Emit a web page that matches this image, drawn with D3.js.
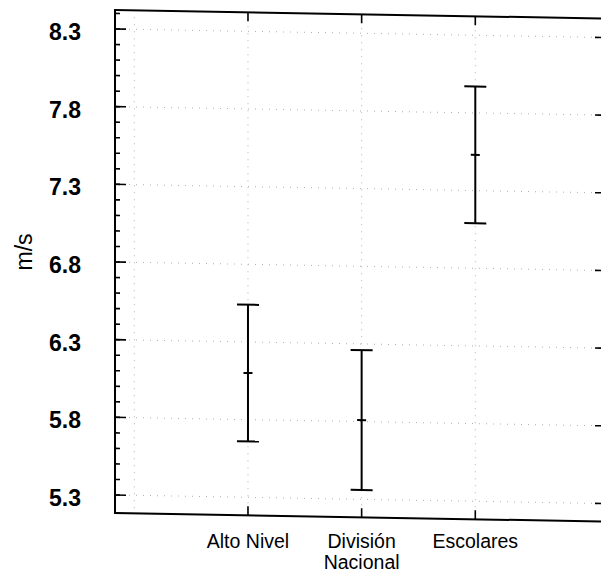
<!DOCTYPE html>
<html lang="en">
<head>
<meta charset="UTF-8">
<title>m/s by group</title>
<script src="https://d3js.org/d3.v7.min.js"></script>
<style>
  body { margin: 0; background: #fff; }
  svg { display: block; font-family: "Liberation Sans", Arial, Helvetica, sans-serif; }
  .grid line { stroke: #b0b0b0; stroke-width: 1; stroke-dasharray: 1,6; }
  .frame { fill: none; stroke: #000; stroke-width: 2; }
  .tick-mark { stroke: #000; stroke-width: 1.6; }
  .bar line { stroke: #000; stroke-width: 2; }
</style>
</head>
<body>
<svg id="chart" width="601" height="575"></svg>
<script>
// data
const categories = [["Alto Nivel"], ["División", "Nacional"], ["Escolares"]];
const means = [6.10, 5.81, 7.53];
const lower = [5.66, 5.36, 7.09];
const upper = [6.54, 6.26, 7.97];
const yTicks = [5.3, 5.8, 6.3, 6.8, 7.3, 7.8, 8.3];
const yMinor = d3.range(53, 85).map(d => d / 10);
const yLabel = "m/s";

const plotLeft = 115, plotRight = 606, plotTop = 10, plotBottom = 513;

const x = d3.scaleLinear().domain([-0.17, 4.15]).range([plotLeft, plotRight]);
const y = d3.scaleLinear().domain([5.184, 8.422]).range([plotBottom, plotTop]);

const svg = d3.select('#chart');

// the scan is slightly sheared, horizontal lines drop about 1 degree
const plot = svg.append('g')
    .attr('transform', 'translate(0,-2) skewY(1)');

// grid
const grid = plot.append('g').attr('class', 'grid');
grid.selectAll('.hg')
    .data(yTicks)
    .enter().append('line')
    .attr('x1', plotLeft).attr('x2', plotRight)
    .attr('y1', d => y(d)).attr('y2', d => y(d));
grid.selectAll('.vg')
    .data([0, 1, 2, 3])
    .enter().append('line')
    .attr('x1', d => x(d)).attr('x2', d => x(d))
    .attr('y1', plotTop).attr('y2', plotBottom);

// frame
plot.append('rect')
    .attr('class', 'frame')
    .attr('x', plotLeft).attr('y', plotTop)
    .attr('width', plotRight - plotLeft).attr('height', plotBottom - plotTop);

// y ticks, inward on both sides
const ticks = plot.append('g');
function yTickMarks(vals, len) {
    ticks.selectAll(null).data(vals).enter().append('line')
        .attr('class', 'tick-mark')
        .attr('x1', plotLeft).attr('x2', plotLeft + len)
        .attr('y1', d => y(d)).attr('y2', d => y(d));
    ticks.selectAll(null).data(vals).enter().append('line')
        .attr('class', 'tick-mark')
        .attr('x1', plotRight).attr('x2', plotRight - len)
        .attr('y1', d => y(d)).attr('y2', d => y(d));
}
yTickMarks(yMinor, 5);
yTickMarks(yTicks, 11);

// x ticks at the categories, top and bottom
const catIdx = categories.map((c, i) => i + 1);
ticks.selectAll(null).data(catIdx).enter().append('line')
    .attr('class', 'tick-mark')
    .attr('x1', d => x(d)).attr('x2', d => x(d))
    .attr('y1', plotBottom).attr('y2', plotBottom - 9);
ticks.selectAll(null).data(catIdx).enter().append('line')
    .attr('class', 'tick-mark')
    .attr('x1', d => x(d)).attr('x2', d => x(d))
    .attr('y1', plotTop).attr('y2', plotTop + 9);

// error bars
const capW = 22, meanW = 9;
const bars = plot.selectAll('.bar')
    .data(categories.map((c, i) => ({ i: i + 1, lo: lower[i], m: means[i], hi: upper[i] })))
    .enter().append('g')
    .attr('class', 'bar');
bars.append('line')
    .attr('x1', d => x(d.i)).attr('x2', d => x(d.i))
    .attr('y1', d => y(d.lo)).attr('y2', d => y(d.hi));
bars.append('line')
    .attr('x1', d => x(d.i) - capW / 2).attr('x2', d => x(d.i) + capW / 2)
    .attr('y1', d => y(d.hi)).attr('y2', d => y(d.hi));
bars.append('line')
    .attr('x1', d => x(d.i) - capW / 2).attr('x2', d => x(d.i) + capW / 2)
    .attr('y1', d => y(d.lo)).attr('y2', d => y(d.lo));
bars.append('line')
    .attr('x1', d => x(d.i) - meanW / 2).attr('x2', d => x(d.i) + meanW / 2)
    .attr('y1', d => y(d.m)).attr('y2', d => y(d.m));

// y tick labels
svg.selectAll('.ylab')
    .data(yTicks)
    .enter().append('text')
    .attr('x', 81)
    .attr('y', d => y(d) + 11)
    .attr('text-anchor', 'end')
    .style('font-size', '23px')
    .style('font-weight', 'bold')
    .text(d => d.toFixed(1));

// y axis title
svg.append('text')
    .attr('transform', 'translate(32,252) rotate(-90)')
    .attr('text-anchor', 'middle')
    .style('font-size', '23px')
    .text(yLabel);

// category labels
const catLab = svg.selectAll('.xlab')
    .data(categories)
    .enter().append('text')
    .attr('text-anchor', 'middle')
    .style('font-size', '19.5px')
    .style('font-weight', 'normal');
catLab.selectAll('tspan')
    .data((d, i) => d.map(line => ({ line, i })))
    .enter().append('tspan')
    .attr('x', d => x(d.i + 1))
    .attr('y', (d, j) => 548 + j * 21)
    .text(d => d.line);
</script>
</body>
</html>
